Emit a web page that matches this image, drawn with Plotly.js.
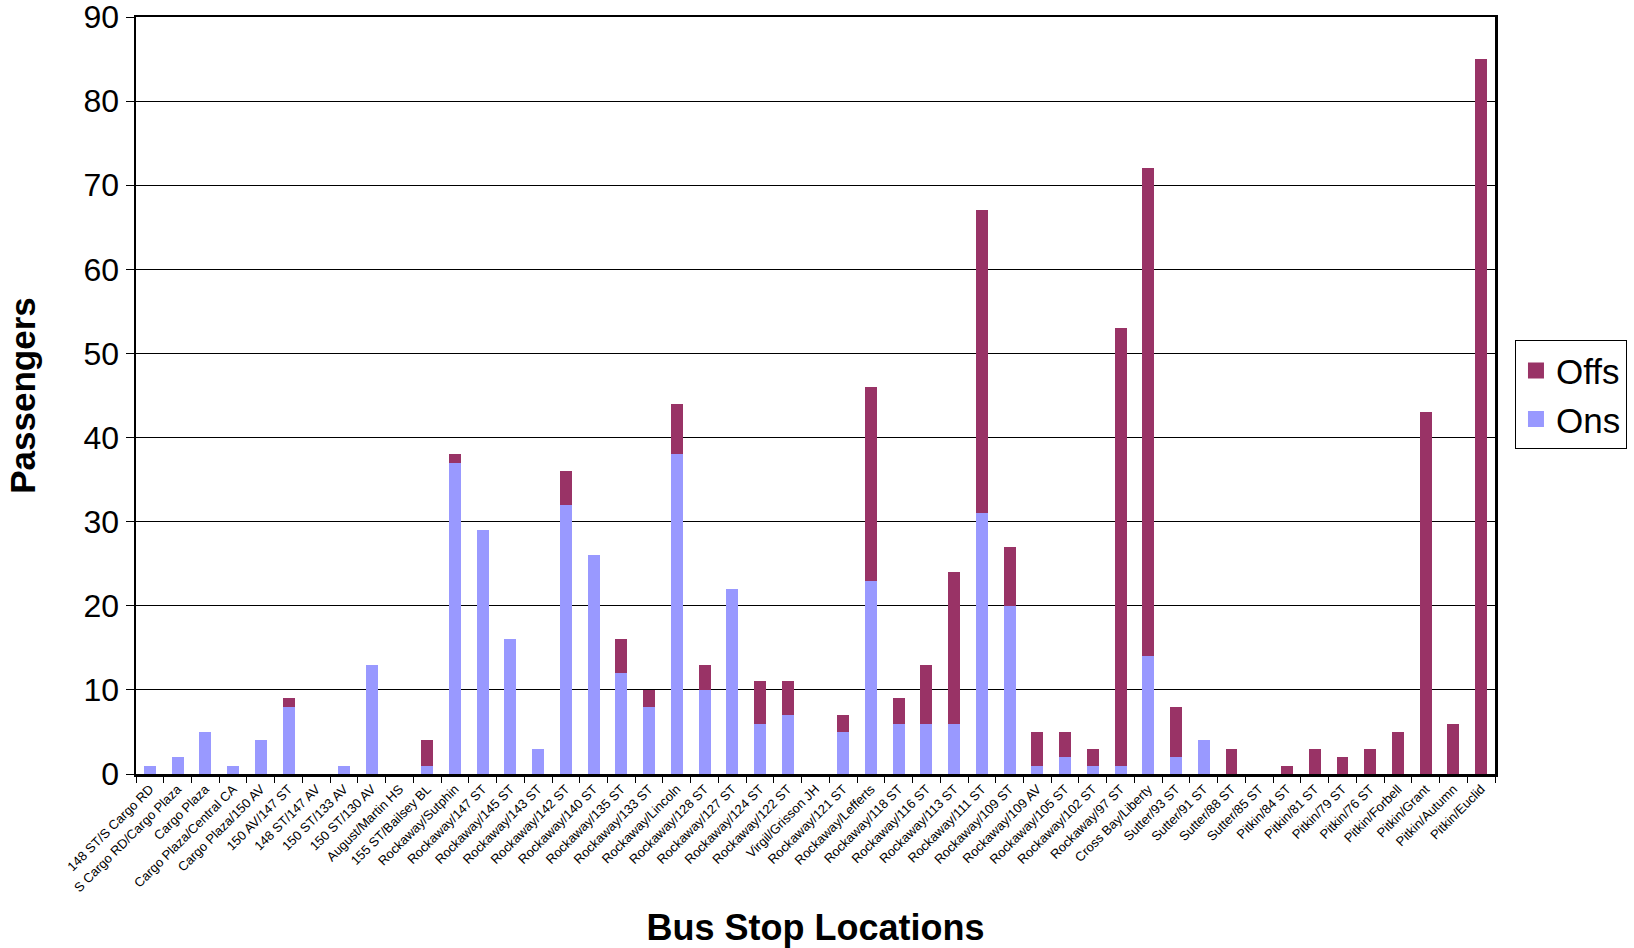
<!DOCTYPE html>
<html>
<head>
<meta charset="utf-8">
<script src="https://cdn.plot.ly/plotly-3.0.1.min.js"></script>
<style>html,body{margin:0;padding:0;background:#fff;}#chart{width:1634px;height:948px;}</style>
</head>
<body>
<div id="chart"></div>
<script>
const stops = ["148 ST/S Cargo RD","S Cargo RD/Cargo Plaza","Cargo Plaza","Cargo Plaza/Central CA","Cargo Plaza/150 AV","150 AV/147 ST","148 ST/147 AV","150 ST/133 AV","150 ST/130 AV","August/Martin HS","155 ST/Bailsey BL","Rockaway/Sutphin","Rockaway/147 ST","Rockaway/145 ST","Rockaway/143 ST","Rockaway/142 ST","Rockaway/140 ST","Rockaway/135 ST","Rockaway/133 ST","Rockaway/Lincoln","Rockaway/128 ST","Rockaway/127 ST","Rockaway/124 ST","Rockaway/122 ST","Virgil/Grisson JH","Rockaway/121 ST","Rockaway/Lefferts","Rockaway/118 ST","Rockaway/116 ST","Rockaway/113 ST","Rockaway/111 ST","Rockaway/109 ST","Rockaway/109 AV","Rockaway/105 ST","Rockaway/102 ST","Rockaway/97 ST","Cross Bay/Liberty","Sutter/93 ST","Sutter/91 ST","Sutter/88 ST","Sutter/85 ST","Pitkin/84 ST","Pitkin/81 ST","Pitkin/79 ST","Pitkin/76 ST","Pitkin/Forbell","Pitkin/Grant","Pitkin/Autumn","Pitkin/Euclid"];
const ons  = [1,2,5,1,4,8,0,1,13,0,1,37,29,16,3,32,26,12,8,38,10,22,6,7,0,5,23,6,6,6,31,20,1,2,1,1,14,2,4,0,0,0,0,0,0,0,0,0,0];
const offs = [0,0,0,0,0,1,0,0,0,0,3,1,0,0,0,4,0,4,2,6,3,0,5,4,0,2,23,3,7,18,36,7,4,3,2,52,58,6,0,3,0,1,3,2,3,5,43,6,85];
const yTicks = [0,10,20,30,40,50,60,70,80,90];

const font = "Liberation Sans, Arial, sans-serif";
const onsColor = "#9999FF", offsColor = "#993366";
const traces = [
  {type:"bar", name:"Ons", x:stops, y:ons, marker:{color:onsColor, line:{width:0}}, showlegend:false},
  {type:"bar", name:"Offs", x:stops, y:offs, marker:{color:offsColor, line:{width:0}}, showlegend:false},
  {type:"scatter", mode:"markers", name:"Offs", x:[stops[0]], y:[null], marker:{symbol:"square", size:22, color:offsColor}},
  {type:"scatter", mode:"markers", name:"Ons", x:[stops[0]], y:[null], marker:{symbol:"square", size:22, color:onsColor}}
];
const layout = {
  width:1634, height:948,
  paper_bgcolor:"#fff", plot_bgcolor:"#fff",
  font:{family:font, color:"#000"},
  barmode:"stack", bargap:0.57,
  margin:{l:136, r:139, t:17, b:174, autoexpand:false},
  showlegend:true,
  legend:{x:1.0147, xanchor:"left", y:0.501, yanchor:"middle", traceorder:"normal",
    font:{size:35, family:font}, bordercolor:"#000", borderwidth:1, bgcolor:"#fff",
    itemwidth:30, tracegroupgap:0},
  xaxis:{type:"category", range:[-0.5, stops.length - 0.5], autorange:false,
    tickangle:-45, tickfont:{size:13, family:font},
    ticks:"outside", ticklen:6, tickcolor:"#000", tickson:"boundaries",
    showline:true, linecolor:"#000", linewidth:2.5, mirror:true, showgrid:false,
    automargin:false,
    title:{text:"<b>Bus Stop Locations</b>", font:{size:36, family:font}, standoff:30}},
  yaxis:{range:[0,90], autorange:false, tickmode:"array", tickvals:yTicks, ticktext:yTicks.map(String),
    tickfont:{size:32, family:font}, ticklabeloverflow:"allow",
    ticks:"outside", ticklen:8, tickcolor:"#000",
    showline:true, linecolor:"#000", linewidth:2.5, mirror:true,
    showgrid:true, gridcolor:"#000", gridwidth:1, zeroline:false, automargin:false,
    title:{text:"<b>Passengers</b>", font:{size:35, family:font}, standoff:38}}
};
Plotly.newPlot("chart", traces, layout, {displayModeBar:false, staticPlot:true});
</script>
</body>
</html>
